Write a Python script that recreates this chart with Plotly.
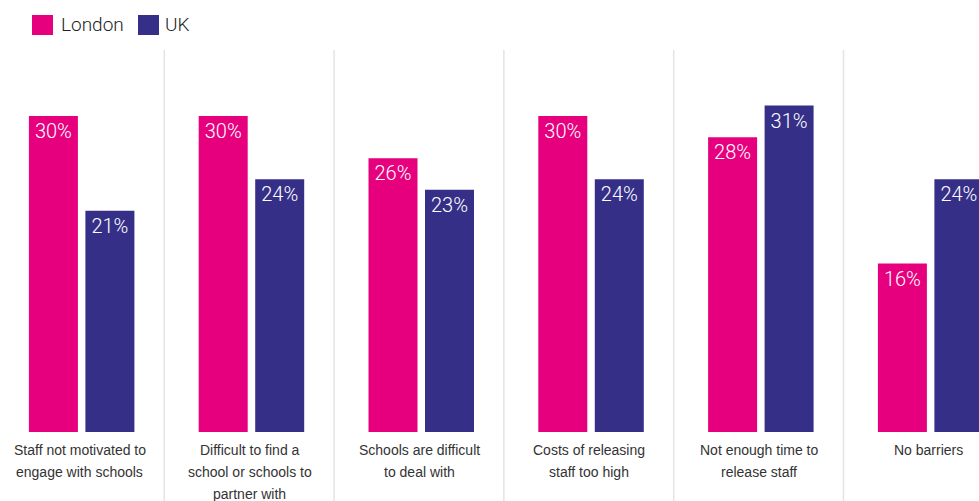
import plotly.graph_objects as go

# Survey results: barriers to engaging with schools (% of employers)
categories = [
    "Staff not motivated to<br>engage with schools",
    "Difficult to find a<br>school or schools to<br>partner with",
    "Schools are difficult<br>to deal with",
    "Costs of releasing<br>staff too high",
    "Not enough time to<br>release staff",
    "No barriers",
]
london = [30, 30, 26, 30, 28, 16]
uk = [21, 24, 23, 24, 31, 24]
series_names = ["London", "UK"]
series_colors = ["#E6007E", "#352F87"]

W, H = 979, 501
PLOT_BOTTOM = 69          # px reserved below the axis for category labels
PLOT_H = H - PLOT_BOTTOM
PX_PER_PCT = 10.53
SLOT_PX = 169.8           # width of one category slot

BAR_W = 49 / SLOT_PX
bar_offsets = [-51 / SLOT_PX, 5.5 / SLOT_PX]

label_font = dict(family="Roboto", size=20, color="white", weight=300)

fig = go.Figure()
for name, vals, col, off in zip(series_names, [london, uk], series_colors, bar_offsets):
    fig.add_trace(go.Bar(
        x=categories, y=vals, name=name, marker=dict(color=col, line=dict(width=0)),
        width=BAR_W, offset=off,
        texttemplate="%{y}%", textposition="inside", insidetextanchor="end",
        textangle=0, constraintext="none", textfont=label_font,
        showlegend=False, hoverinfo="skip",
    ))

# x range so that slot centres fall every SLOT_PX pixels starting near 80 px
x0 = -0.5 + 5 / SLOT_PX
x1 = x0 + W / SLOT_PX

shapes = []
# light separators between categories
for i in range(len(categories) - 1):
    shapes.append(dict(
        type="line", xref="x", yref="paper", x0=i + 0.497, x1=i + 0.497,
        y0=-PLOT_BOTTOM / PLOT_H, y1=(PLOT_H - 50) / PLOT_H,
        line=dict(color="#E4E4E4", width=1.5), layer="below",
    ))

annotations = []
# category labels, one annotation per line for wider line spacing
for cat in categories:
    for j, line in enumerate(cat.split("<br>")):
        annotations.append(dict(
            x=cat, xref="x", y=0, yref="paper", yanchor="middle", xanchor="center",
            yshift=-18 - 22 * j, text=line, showarrow=False,
            font=dict(family="Liberation Sans", size=14, color="#333333"),
        ))

# legend: coloured squares with series names
legend_items = [(32, 59), (138, 163)]
for (sx, tx), name, col in zip(legend_items, series_names, series_colors):
    shapes.append(dict(
        type="rect", xref="paper", yref="paper",
        x0=sx / W, x1=(sx + 21) / W,
        y0=(PLOT_H - 35) / PLOT_H, y1=(PLOT_H - 15) / PLOT_H,
        fillcolor=col, line=dict(width=0),
    ))
    annotations.append(dict(
        x=tx / W, xref="paper", y=(PLOT_H - 25) / PLOT_H, yref="paper",
        xanchor="left", yanchor="middle", text=name, showarrow=False,
        font=dict(family="Roboto", size=19, color="#222222", weight=300),
    ))

fig.update_layout(
    width=W, height=H,
    margin=dict(l=0, r=0, t=0, b=PLOT_BOTTOM, pad=0),
    paper_bgcolor="white", plot_bgcolor="white",
    barmode="overlay",
    xaxis=dict(range=[x0, x1], showticklabels=False, showgrid=False,
               zeroline=False, showline=False, ticks="", fixedrange=True),
    yaxis=dict(range=[0, PLOT_H / PX_PER_PCT], showticklabels=False, showgrid=False,
               zeroline=False, showline=False, ticks="", fixedrange=True),
    shapes=shapes, annotations=annotations, showlegend=False,
)

fig.write_html("out.html", config={"displayModeBar": False})
